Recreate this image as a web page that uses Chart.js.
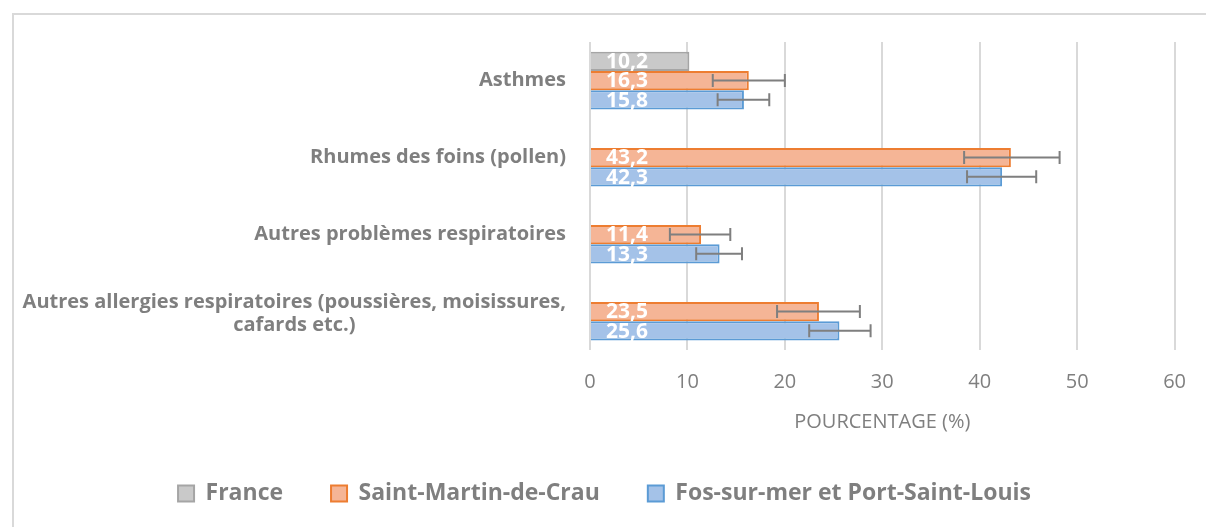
<!DOCTYPE html>
<html>
<head>
<meta charset="utf-8">
<script src="https://cdn.jsdelivr.net/npm/chart.js@4.4.1/dist/chart.umd.min.js"></script>
<style>
  html, body { margin: 0; padding: 0; background: #fff; }
  #wrap { width: 1206px; height: 527px; position: relative; }
</style>
</head>
<body>
<div id="wrap"><canvas id="chart"></canvas></div>
<script>
// Data
const categories = [
    ['Asthmes'],
    ['Rhumes des foins (pollen)'],
    ['Autres problèmes respiratoires'],
    ['Autres allergies respiratoires (poussières, moisissures,', 'cafards etc.)']
];
const seriesNames = ['France', 'Saint-Martin-de-Crau', 'Fos-sur-mer et Port-Saint-Louis'];
const franceValues = [10.2, null, null, null];
const smcValues = [16.3, 43.2, 11.4, 23.5];
const fosValues = [15.8, 42.3, 13.3, 25.6];
const smcErrLow = [12.6, 38.4, 8.2, 19.2];
const smcErrHigh = [20.0, 48.2, 14.4, 27.7];
const fosErrLow = [13.1, 38.7, 10.9, 22.5];
const fosErrHigh = [18.4, 45.8, 15.6, 28.8];
const xMin = 0;
const xMax = 60;
const xStep = 10;
const axisTitle = 'POURCENTAGE (%)';

const TEXT_GRAY = '#7f7f7f';
const GRID_GRAY = '#d9d9d9';

Chart.defaults.font.family = '"Open Sans", sans-serif';
Chart.defaults.color = TEXT_GRAY;

// Outer frame of the chart area
const framePlugin = {
    id: 'frame',
    beforeDraw(chart) {
        const ctx = chart.ctx;
        ctx.save();
        ctx.strokeStyle = GRID_GRAY;
        ctx.lineWidth = 2;
        ctx.beginPath();
        ctx.moveTo(13, chart.height + 5);
        ctx.lineTo(13, 14);
        ctx.lineTo(chart.width + 5, 14);
        ctx.stroke();
        ctx.restore();
    }
};

// Category labels: right aligned block, lines centered inside the block
const categoryLabelPlugin = {
    id: 'categoryLabels',
    afterDraw(chart) {
        const ctx = chart.ctx;
        const yScale = chart.scales.y;
        const rightEdge = chart.chartArea.left - 24;
        const lineH = 23;
        ctx.save();
        ctx.font = 'bold 20px "Open Sans", sans-serif';
        ctx.fillStyle = TEXT_GRAY;
        ctx.textBaseline = 'middle';
        ctx.textAlign = 'center';
        categories.forEach((lines, i) => {
            const yc = yScale.getPixelForValue(i) + (lines.length > 1 ? 2 : 0);
            const w = Math.max(...lines.map(l => ctx.measureText(l).width));
            const xc = rightEdge - w / 2;
            const y0 = yc - (lines.length - 1) * lineH / 2;
            lines.forEach((l, j) => ctx.fillText(l, xc, y0 + j * lineH));
        });
        ctx.restore();
    }
};

// Value labels inside the bars and error bars
const barExtrasPlugin = {
    id: 'barExtras',
    afterDatasetsDraw(chart) {
        const ctx = chart.ctx;
        const xScale = chart.scales.x;
        const base = xScale.getPixelForValue(0);
        ctx.save();
        ctx.font = 'bold 21px "Open Sans", sans-serif';
        ctx.fillStyle = '#ffffff';
        ctx.textBaseline = 'middle';
        ctx.textAlign = 'left';
        chart.data.datasets.forEach((ds, di) => {
            const meta = chart.getDatasetMeta(di);
            meta.data.forEach((bar, i) => {
                const v = ds.data[i];
                if (v === null || v === undefined) return;
                ctx.fillText(v.toFixed(1).replace('.', ','), base + 16, bar.y + 1);
            });
        });
        ctx.strokeStyle = '#7f7f7f';
        ctx.lineWidth = 2;
        chart.data.datasets.forEach((ds, di) => {
            if (!ds.errLow) return;
            const meta = chart.getDatasetMeta(di);
            meta.data.forEach((bar, i) => {
                const lo = ds.errLow[i];
                const hi = ds.errHigh[i];
                if (lo === null || lo === undefined) return;
                const x1 = xScale.getPixelForValue(lo);
                const x2 = xScale.getPixelForValue(hi);
                const y = bar.y;
                const cap = 6.5;
                ctx.beginPath();
                ctx.moveTo(x1, y); ctx.lineTo(x2, y);
                ctx.moveTo(x1, y - cap); ctx.lineTo(x1, y + cap);
                ctx.moveTo(x2, y - cap); ctx.lineTo(x2, y + cap);
                ctx.stroke();
            });
        });
        ctx.restore();
    }
};

const chart = new Chart(document.getElementById('chart').getContext('2d'), {
    type: 'bar',
    data: {
        labels: categories,
        datasets: [
            {
                label: seriesNames[0],
                data: franceValues,
                backgroundColor: '#c9c9c9',
                borderColor: '#a5a5a5',
                borderWidth: 2
            },
            {
                label: seriesNames[1],
                data: smcValues,
                errLow: smcErrLow,
                errHigh: smcErrHigh,
                backgroundColor: '#f5b596',
                borderColor: '#ed7d31',
                borderWidth: 2
            },
            {
                label: seriesNames[2],
                data: fosValues,
                errLow: fosErrLow,
                errHigh: fosErrHigh,
                backgroundColor: '#a4c2e8',
                borderColor: '#5b9bd5',
                borderWidth: 2
            }
        ]
    },
    options: {
        indexAxis: 'y',
        responsive: true,
        maintainAspectRatio: false,
        animation: false,
        datasets: {
            bar: {
                categoryPercentage: 0.75,
                barPercentage: 1.0
            }
        },
        layout: {
            padding: { left: 28, right: 25, top: 42, bottom: 12 }
        },
        plugins: {
            legend: {
                position: 'bottom',
                labels: {
                    boxWidth: 16,
                    boxHeight: 16,
                    padding: 48,
                    color: TEXT_GRAY,
                    font: { size: 23, weight: 'bold' }
                }
            },
            tooltip: { enabled: false }
        },
        scales: {
            x: {
                min: xMin,
                max: xMax,
                afterFit(scale) { scale.height = 84; },
                grid: {
                    color: GRID_GRAY,
                    lineWidth: 2,
                    drawTicks: false
                },
                border: { display: false },
                ticks: {
                    stepSize: xStep,
                    padding: 20,
                    color: TEXT_GRAY,
                    font: { size: 20 }
                },
                title: {
                    display: true,
                    text: axisTitle,
                    color: TEXT_GRAY,
                    font: { size: 20 },
                    padding: { top: 0, bottom: 0 }
                }
            },
            y: {
                afterFit(scale) { scale.width = 562; },
                grid: { display: false },
                border: { display: false },
                ticks: { display: false }
            }
        }
    },
    plugins: [framePlugin, categoryLabelPlugin, barExtrasPlugin]
});
</script>
</body>
</html>
